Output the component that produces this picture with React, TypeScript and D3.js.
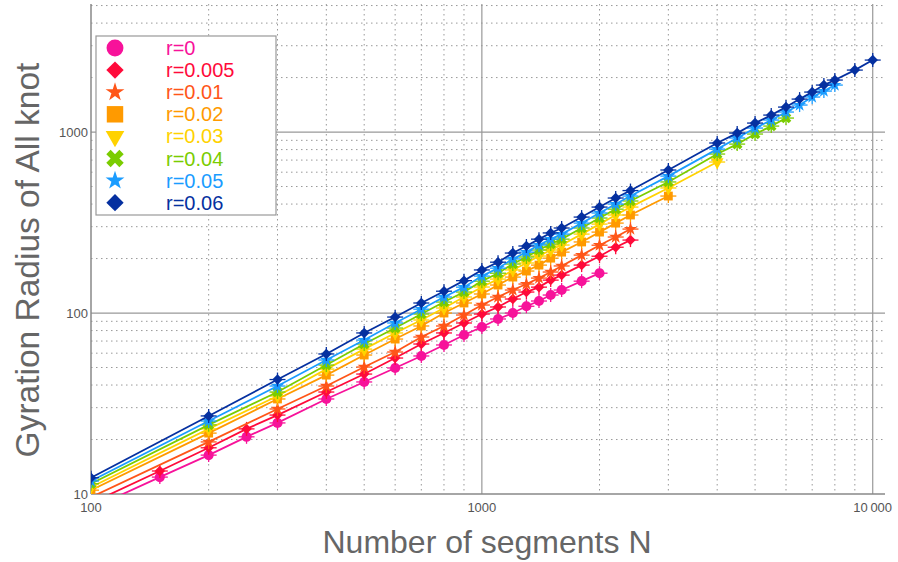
import React, { useEffect, useRef } from 'react';
import * as d3 from 'd3';

const width = 898;
const height = 562;

// segment counts used by each run
const nR0 = [100, 150, 200, 250, 300, 400, 500, 600, 700, 800, 900, 1000, 1100, 1200, 1300, 1400, 1500, 1600, 1800, 2000];
const nR005 = [100, 150, 200, 250, 300, 400, 500, 600, 700, 800, 900, 1000, 1100, 1200, 1300, 1400, 1500, 1600, 1800, 2000, 2200, 2400];
const nR01 = [100, 200, 300, 400, 500, 600, 700, 800, 900, 1000, 1100, 1200, 1300, 1400, 1500, 1600, 1800, 2000, 2200, 2400];
const nR02 = [100, 200, 300, 400, 500, 600, 700, 800, 900, 1000, 1100, 1200, 1300, 1400, 1500, 1600, 1800, 2000, 2200, 2400, 3000];
const nR03 = [100, 200, 300, 400, 500, 600, 700, 800, 900, 1000, 1100, 1200, 1300, 1400, 1500, 1600, 1800, 2000, 2200, 2400, 3000, 4000];
const nR04 = [100, 200, 300, 400, 500, 600, 700, 800, 900, 1000, 1100, 1200, 1300, 1400, 1500, 1600, 1800, 2000, 2200, 2400, 3000, 4000, 4500, 5000, 5500, 6000];
const nR05 = [100, 200, 300, 400, 500, 600, 700, 800, 900, 1000, 1100, 1200, 1300, 1400, 1500, 1600, 1800, 2000, 2200, 2400, 3000, 4000, 4500, 5000, 5500, 6000, 6500, 7000, 7500, 8000];
const nR06 = [100, 200, 300, 400, 500, 600, 700, 800, 900, 1000, 1100, 1200, 1300, 1400, 1500, 1600, 1800, 2000, 2200, 2400, 3000, 4000, 4500, 5000, 5500, 6000, 6500, 7000, 7500, 8000, 9000, 10000];

// gyration radius
const rg0 = [8.3, 12.4, 16.4, 20.7, 24.7, 33.5, 41.6, 49.7, 57.9, 66.6, 75.6, 83.7, 92.7, 100, 109, 116.5, 125.7, 134, 150, 166];
const rg005 = [8.9, 13.4, 18.0, 22.9, 27.3, 36.6, 46.0, 56.4, 67.4, 77.6, 88.1, 98.7, 108, 119.5, 130.6, 139, 152, 162, 184, 206, 231, 253];
const rg01 = [9.6, 19.4, 29.5, 39.5, 50.3, 60.9, 73.7, 84.8, 97.5, 110.7, 122.6, 134, 144.6, 156, 168.5, 182, 209, 237, 263, 291];
const rg02 = [10.5, 21.7, 33.5, 45.4, 58.6, 71.8, 84.8, 100, 113.6, 127.4, 142.8, 158, 170.6, 184, 201, 217, 247, 280, 314, 348, 443];
const rg03 = [10.9, 22.9, 34.8, 49.0, 63.2, 77.6, 91.5, 106.6, 122.6, 139.2, 154, 173, 189, 206.5, 223, 237.5, 273, 310, 348, 385, 491, 683];
const rg04 = [11.4, 24.1, 36.6, 51.6, 67.4, 82.6, 98.7, 115, 130.6, 150, 166, 186.5, 204, 223, 240.6, 256, 295, 335, 375, 416, 530, 756, 858, 975, 1079, 1195];
const rg05 = [11.8, 25.3, 39.5, 55.0, 70.9, 88.1, 105, 122.6, 139, 160, 177, 199, 217, 237.5, 256, 273, 314, 357, 400, 443, 571, 805, 927, 1052, 1165, 1290, 1410, 1561, 1684, 1818];
const rg06 = [12.3, 27.0, 42.9, 59.4, 77.6, 95.0, 113.6, 132, 151, 173, 191, 214.5, 234.6, 256, 277, 295, 339, 385, 432, 475, 617, 870, 987, 1121, 1241, 1374, 1521, 1663, 1818, 1938, 2200, 2499];

const labels = ['r=0', 'r=0.005', 'r=0.01', 'r=0.02', 'r=0.03', 'r=0.04', 'r=0.05', 'r=0.06'];
const colors = ['#f7129a', '#ff0a3a', '#ff5518', '#ff9a00', '#ffd200', '#7acc00', '#1a9cff', '#0530a0'];
const shapes = ['circle', 'diamond', 'star', 'square', 'tridown', 'cross', 'star', 'diamond'];

const xTicks = [100, 1000, 10000];
const xTickLabels = ['100', '1000', '10\u2009000'];
const yTicks = [10, 100, 1000];
const yTickLabels = ['10', '100', '1000'];

const font = 'Liberation Sans, Arial, sans-serif';

// [plot size, legend size] as d3 symbol areas
const symbolSizes = {
    circle: [80, 225],
    diamond: [55, 150],
    star: [55, 110],
    square: [78, 270],
    tridown: [70, 150],
    cross: [70, 190],
};

function symbolFor(shape, big) {
    const s = symbolSizes[shape][big ? 1 : 0];
    switch (shape) {
        case 'circle': return { path: d3.symbol(d3.symbolCircle, s)(), rot: 0 };
        case 'diamond': return { path: d3.symbol(d3.symbolSquare, s)(), rot: 45 };
        case 'star': return { path: d3.symbol(d3.symbolStar, s)(), rot: 0 };
        case 'square': return { path: d3.symbol(d3.symbolSquare, s)(), rot: 0 };
        case 'tridown': return { path: d3.symbol(d3.symbolTriangle, s)(), rot: 180 };
        case 'cross': return { path: d3.symbol(d3.symbolCross, s)(), rot: 45 };
        default: return { path: d3.symbol(d3.symbolCircle, s)(), rot: 0 };
    }
}

export default function App() {
    const node = useRef(null);

    useEffect(() => {
        const series = [
            { n: nR0, r: rg0 },
            { n: nR005, r: rg005 },
            { n: nR01, r: rg01 },
            { n: nR02, r: rg02 },
            { n: nR03, r: rg03 },
            { n: nR04, r: rg04 },
            { n: nR05, r: rg05 },
            { n: nR06, r: rg06 },
        ];

        const x = d3.scaleLog().domain([100, 10750]).range([91, 885]);
        const y = d3.scaleLog().domain([10, 5100]).range([494, 4]);

        const svg = d3.select(node.current);
        svg.selectAll('*').remove();

        svg.append('defs').append('clipPath').attr('id', 'plotclip')
            .append('rect')
            .attr('x', x.range()[0]).attr('y', y.range()[1])
            .attr('width', x.range()[1] - x.range()[0])
            .attr('height', y.range()[0] - y.range()[1]);

        // grid
        const grid = svg.append('g');
        const xMinor = [200, 300, 400, 500, 600, 700, 800, 900, 2000, 3000, 4000, 5000, 6000, 7000, 8000, 9000];
        const yMinor = [20, 30, 40, 50, 60, 70, 80, 90, 200, 300, 400, 500, 600, 700, 800, 900, 2000, 3000, 4000, 5000];

        grid.selectAll('.xminor').data(xMinor).enter().append('line')
            .attr('x1', d => x(d)).attr('x2', d => x(d))
            .attr('y1', y.range()[1]).attr('y2', y.range()[0])
            .attr('stroke', '#999').attr('stroke-width', 1).attr('stroke-dasharray', '1.5,3.5');
        grid.selectAll('.yminor').data(yMinor).enter().append('line')
            .attr('x1', x.range()[0]).attr('x2', x.range()[1])
            .attr('y1', d => y(d)).attr('y2', d => y(d))
            .attr('stroke', '#999').attr('stroke-width', 1).attr('stroke-dasharray', '1.5,3.5');
        grid.selectAll('.xmajor').data([1000, 10000]).enter().append('line')
            .attr('x1', d => x(d)).attr('x2', d => x(d))
            .attr('y1', y.range()[1]).attr('y2', y.range()[0])
            .attr('stroke', '#999').attr('stroke-width', 1.2);
        grid.selectAll('.ymajor').data([100, 1000]).enter().append('line')
            .attr('x1', x.range()[0]).attr('x2', x.range()[1])
            .attr('y1', d => y(d)).attr('y2', d => y(d))
            .attr('stroke', '#999').attr('stroke-width', 1.2);

        // frame (left + bottom only)
        svg.append('line')
            .attr('x1', x.range()[0]).attr('x2', x.range()[0])
            .attr('y1', y.range()[1]).attr('y2', y.range()[0])
            .attr('stroke', '#888').attr('stroke-width', 1.5);
        svg.append('line')
            .attr('x1', x.range()[0]).attr('x2', x.range()[1])
            .attr('y1', y.range()[0]).attr('y2', y.range()[0])
            .attr('stroke', '#888').attr('stroke-width', 1.5);

        // tick labels
        svg.selectAll('.xtick').data(xTicks).enter().append('text')
            .attr('x', d => x(d)).attr('y', 512)
            .attr('text-anchor', 'middle')
            .attr('font-family', font).attr('font-size', 13)
            .attr('fill', '#555')
            .text((d, i) => xTickLabels[i]);
        svg.selectAll('.ytick').data(yTicks).enter().append('text')
            .attr('x', 88).attr('y', d => y(d) + 5)
            .attr('text-anchor', 'end')
            .attr('font-family', font).attr('font-size', 13)
            .attr('fill', '#555')
            .text((d, i) => yTickLabels[i]);

        // axis titles
        svg.append('text')
            .attr('x', 487).attr('y', 553)
            .attr('text-anchor', 'middle')
            .attr('font-family', font).attr('font-size', 32)
            .attr('fill', '#666')
            .text('Number of segments N');
        svg.append('text')
            .attr('transform', 'translate(39,260) rotate(-90)')
            .attr('text-anchor', 'middle')
            .attr('font-family', font).attr('font-size', 33.5)
            .attr('fill', '#666')
            .text('Gyration Radius of All knot');

        // data
        const plot = svg.append('g').attr('clip-path', 'url(#plotclip)');
        const lineGen = d3.line()
            .x(d => x(d[0]))
            .y(d => y(d[1]));

        series.forEach((s, i) => {
            const pts = s.n.map((n, j) => [n, s.r[j]]);
            const g = plot.append('g');
            g.append('path')
                .attr('d', lineGen(pts))
                .attr('fill', 'none')
                .attr('stroke', colors[i])
                .attr('stroke-width', 1.8);

            const sym = symbolFor(shapes[i], false);
            const mk = g.selectAll('.pt').data(pts).enter().append('g')
                .attr('transform', d => `translate(${x(d[0])},${y(d[1])})`);
            mk.append('line')
                .attr('x1', -8).attr('x2', 8).attr('y1', 0).attr('y2', 0)
                .attr('stroke', colors[i]).attr('stroke-width', 1.3);
            mk.append('line')
                .attr('x1', 0).attr('x2', 0).attr('y1', -7).attr('y2', 7)
                .attr('stroke', colors[i]).attr('stroke-width', 1.3);
            mk.append('path')
                .attr('d', sym.path)
                .attr('transform', `rotate(${sym.rot})`)
                .attr('fill', colors[i]);
        });

        // legend
        const legend = svg.append('g');
        legend.append('rect')
            .attr('x', 96).attr('y', 36)
            .attr('width', 180).attr('height', 179)
            .attr('fill', '#fff')
            .attr('stroke', '#999').attr('stroke-width', 1.2);
        labels.forEach((lab, i) => {
            const cy = 48 + i * 22.1;
            const sym = symbolFor(shapes[i], true);
            legend.append('path')
                .attr('d', sym.path)
                .attr('transform', `translate(115,${cy}) rotate(${sym.rot})`)
                .attr('fill', colors[i]);
            legend.append('text')
                .attr('x', 166).attr('y', cy + 7)
                .attr('font-family', font).attr('font-size', 20)
                .attr('fill', colors[i])
                .text(lab);
        });
    }, []);

    return (
        <svg
            ref={node}
            width={width}
            height={height}
            style={{ position: 'fixed', left: 0, top: 0, background: '#fff' }}
        />
    );
}
